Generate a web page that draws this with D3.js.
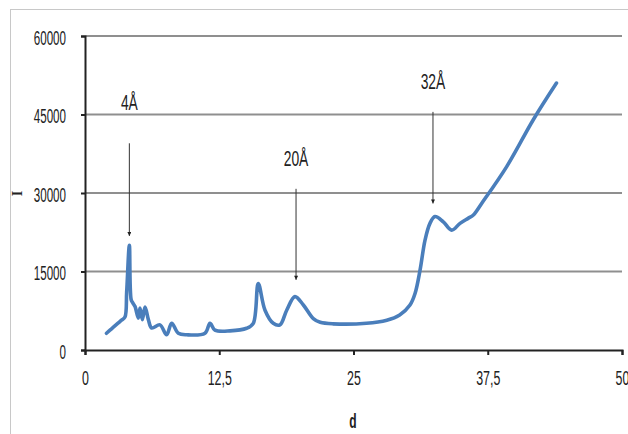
<!DOCTYPE html>
<html>
<head>
<meta charset="utf-8">
<script src="https://cdn.jsdelivr.net/npm/d3@7"></script>
<style>
  html, body { margin: 0; padding: 0; background: #fff; }
  svg { display: block; }
  .narrow { font-family: "Liberation Sans", Arial, sans-serif; }
</style>
</head>
<body>
<svg id="chart" width="628" height="434"></svg>
<script>
// Interplanar spacing d and intensity I of the diffraction profile
const dValues = [2.0, 2.5, 3.4, 3.72, 3.88, 4.13, 4.3, 4.45, 4.66, 4.96, 5.12, 5.34, 5.59, 5.9, 6.21,
  6.98, 7.6, 8.07, 8.69, 9.47, 11.17, 11.64, 12.1, 13.5, 15.05, 15.67, 16.13, 16.76, 17.53,
  18.15, 18.78, 19.55, 20.33, 21.26, 21.9, 23.1, 26.2, 28.1, 29.3, 30.26, 30.73, 31.2, 31.66,
  32.12, 32.59, 33.36, 34.14, 34.92, 35.7, 36.16, 36.93, 39.25, 41.74, 43.9];
const intensity = [3200, 4100, 5700, 6300, 11100, 20000, 9600, 9000, 8300, 6100, 8000, 5800, 8200, 5800, 4200,
  4800, 2900, 5100, 3200, 2900, 3200, 5100, 3800, 3650, 4150, 5100, 12700, 7600, 5100,
  4800, 7600, 10200, 8600, 6000, 5300, 5000, 5100, 5700, 6700, 8600, 10800, 15300, 21000,
  24200, 25500, 24500, 22900, 24200, 25200, 25800, 28000, 35000, 44000, 51000];

const xTicks = [0, 12.5, 25, 37.5, 50];
const yTicks = [0, 15000, 30000, 45000, 60000];

// Peak annotations: label, d position, label baseline, arrow top and arrow tip intensity
const peakLabels = ["4Å", "20Å", "32Å"];
const peakD = [4.13, 19.65, 32.4];
const labelI = [45900, 35200, 49900];
const arrowTopI = [39500, 30800, 45500];
const arrowTipI = [21800, 13400, 28000];

const svg = d3.select("#chart");
const x = d3.scaleLinear().domain([0, 50]).range([85, 622]);
const y = d3.scaleLinear().domain([0, 60000]).range([350, 36]);

// squeeze text horizontally to a condensed look
function condense(sel, k) {
  sel.each(function () {
    const w = this.getComputedTextLength();
    d3.select(this).attr("textLength", w * k).attr("lengthAdjust", "spacingAndGlyphs");
  });
}

// outer frame
svg.append("rect").attr("x", 10.5).attr("y", 9.5).attr("width", 640).attr("height", 440)
  .attr("fill", "none").attr("stroke", "#c8c8c8").attr("stroke-width", 1);

// horizontal gridlines
svg.append("g").selectAll("line").data(yTicks.filter(v => v > 0)).join("line")
  .attr("x1", x(0)).attr("x2", x(50))
  .attr("y1", d => y(d)).attr("y2", d => y(d))
  .attr("stroke", "#8f8f8f").attr("stroke-width", 2);

// y axis
const yAxis = svg.append("g").attr("transform", `translate(${x(0)},0)`)
  .call(d3.axisLeft(y).tickValues(yTicks).tickFormat(d3.format("d")).tickSize(4).tickPadding(15));
yAxis.select(".domain").attr("stroke", "#222").attr("stroke-width", 2);
yAxis.selectAll(".tick line").attr("stroke", "#222").attr("stroke-width", 2);
yAxis.selectAll("text").attr("class", "narrow").attr("font-size", 20).attr("fill", "#222")
  .attr("dy", "0.4em").call(condense, 0.58);

// x axis
const xAxis = svg.append("g").attr("transform", `translate(0,${y(0)})`)
  .call(d3.axisBottom(x).tickValues(xTicks).tickFormat(d => String(d).replace(".", ",")).tickSize(5));
xAxis.select(".domain").attr("stroke", "#222").attr("stroke-width", 2);
xAxis.selectAll(".tick line").attr("stroke", "#222").attr("stroke-width", 2);
xAxis.selectAll("text").attr("class", "narrow").attr("font-size", 20).attr("fill", "#222")
  .attr("y", 35).attr("dy", null).call(condense, 0.62);

// axis titles
svg.append("text").attr("class", "narrow").attr("x", 353).attr("y", 428)
  .attr("text-anchor", "middle").attr("font-size", 20).attr("font-weight", "bold").attr("fill", "#222")
  .text("d").call(condense, 0.6);
svg.append("text").attr("transform", "translate(22,193.5) rotate(-90)")
  .attr("text-anchor", "middle").attr("font-family", "Liberation Serif, serif")
  .attr("font-size", 14).attr("font-weight", "bold").attr("fill", "#222").text("I");

// data line
const line = d3.line().x(d => x(d)).y((d, i) => y(intensity[i])).curve(d3.curveCatmullRom.alpha(0.5));
svg.append("path").datum(dValues).attr("d", line)
  .attr("fill", "none").attr("stroke", "#4a7ebb").attr("stroke-width", 3.6)
  .attr("stroke-linejoin", "round").attr("stroke-linecap", "round");

// annotation arrows
svg.append("defs").append("marker").attr("id", "head")
  .attr("viewBox", "0 0 10 10").attr("refX", 10).attr("refY", 5)
  .attr("markerWidth", 6).attr("markerHeight", 4).attr("orient", "auto")
  .attr("markerUnits", "userSpaceOnUse")
  .append("path").attr("d", "M0,0 L10,5 L0,10 Z").attr("fill", "#222");

const ann = svg.append("g");
peakLabels.forEach((lab, i) => {
  ann.append("line").attr("x1", x(peakD[i])).attr("x2", x(peakD[i]))
    .attr("y1", y(arrowTopI[i])).attr("y2", y(arrowTipI[i]))
    .attr("stroke", "#333").attr("stroke-width", 1).attr("marker-end", "url(#head)");
  ann.append("text").attr("class", "narrow").attr("x", x(peakD[i])).attr("y", y(labelI[i]))
    .attr("text-anchor", "middle")
    .attr("font-size", 22).attr("fill", "#222").text(lab).call(condense, 0.63);
});
</script>
</body>
</html>
